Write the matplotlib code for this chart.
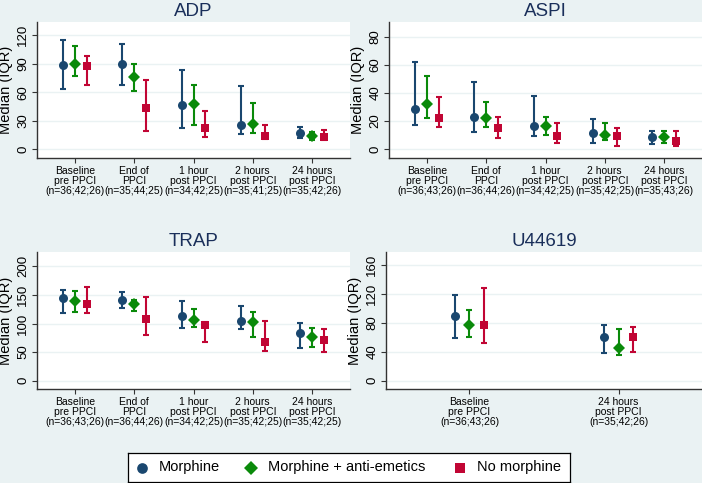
import numpy as np
import matplotlib
matplotlib.use("Agg")
import matplotlib.pyplot as plt

plt.rcParams["font.family"] = ["Liberation Sans", "DejaVu Sans"]

groups = ["Morphine", "Morphine + anti-emetics", "No morphine"]
colors = ["#1a476f", "#0a8a0a", "#c10534"]
markers = ["o", "D", "s"]

# ADP: median, lower, upper per group (rows = groups, cols = timepoints)
adp_labels = ["Baseline\npre PPCI\n(n=36;42;26)", "End of\nPPCI\n(n=35;44;25)",
              "1 hour\npost PPCI\n(n=34;42;25)", "2 hours\npost PPCI\n(n=35;41;25)",
              "24 hours\npost PPCI\n(n=35;42;26)"]
adp_med = [[89, 90, 46.4, 25.5, 16.7], [90, 76, 48, 26, 13.3], [88, 43.6, 22, 13.3, 12.6]]
adp_lo = [[63, 67, 22, 15.3, 11.5], [77.4, 61.4, 25, 16.7, 9.8], [67.3, 19.5, 12.6, 10.5, 9]]
adp_hi = [[114.8, 111, 83, 66.3, 23.4], [109, 90, 68, 48.8, 17.8], [97.7, 72.5, 40.5, 24.8, 20.2]]

aspi_labels = ["Baseline\npre PPCI\n(n=36;43;26)", "End of\nPPCI\n(n=36;44;26)",
               "1 hour\npost PPCI\n(n=34;42;25)", "2 hours\npost PPCI\n(n=35;42;25)",
               "24 hours\npost PPCI\n(n=35;43;26)"]
aspi_med = [[28.6, 23.2, 16.8, 11.6, 8.8], [32.2, 22.5, 16.1, 9.7, 8.3], [22.5, 14.9, 9, 9, 5.4]]
aspi_lo = [[17.3, 12.3, 9.5, 4.5, 3.8], [22.2, 15.6, 9.9, 6.2, 4], [15.4, 8, 4.3, 2.4, 1.9]]
aspi_hi = [[62.2, 47.6, 38.1, 21.5, 13], [52.3, 33.8, 23.2, 18.7, 13], [37.2, 23.2, 18.7, 14.9, 13]]

trap_labels = ["Baseline\npre PPCI\n(n=36;43;26)", "End of\nPPCI\n(n=36;44;26)",
               "1 hour\npost PPCI\n(n=34;42;25)", "2 hours\npost PPCI\n(n=35;42;25)",
               "24 hours\npost PPCI\n(n=35;42;25)"]
trap_med = [[144.6, 141, 113.7, 103.8, 83.4], [140, 134, 106, 103, 75.8], [134, 107, 97.4, 68.2, 71.7]]
trap_lo = [[118, 126.5, 91.5, 90.4, 57], [120, 122.4, 93.3, 75.8, 59.5], [118, 79.3, 67, 51.3, 50.7]]
trap_hi = [[159, 154.5, 140, 130, 101.5], [157.4, 141.7, 126, 119.5, 92], [163, 147, 102.6, 103.8, 91]]

u4_labels = ["Baseline\npre PPCI\n(n=36;43;26)", "24 hours\npost PPCI\n(n=35;42;26)"]
u4_med = [[89.7, 60.7], [76.8, 45.5], [76.8, 60.7]]
u4_lo = [[58.9, 37.7], [60.2, 35.9], [51.5, 39.5]]
u4_hi = [[117.7, 77.2], [97.5, 70.8], [127.4, 74]]

bg = "#eaf2f3"
msizes = [6.5, 6.0, 5.5]
W, H = 702, 483
fig = plt.figure(figsize=(W / 100, H / 100), dpi=100, facecolor=bg)


def panel(rect, title, labels, med, lo, hi, yticks, ylim, offset):
    l, t, r, b = rect
    ax = fig.add_axes([l / W, 1 - b / H, (r - l) / W, (b - t) / H])
    ax.set_facecolor("white")
    n = len(labels)
    x = np.arange(1, n + 1)
    for g in range(3):
        m = np.array(med[g])
        xs = x + (g - 1) * offset
        err = [m - np.array(lo[g]), np.array(hi[g]) - m]
        ax.errorbar(xs, m, yerr=err, fmt="none", ecolor=colors[g],
                    elinewidth=1.5, capsize=2.5, capthick=1.5)
        ax.plot(xs, m, ls="none", marker=markers[g], color=colors[g],
                ms=msizes[g], mew=0, zorder=3)
    ax.set_xticks(x)
    ax.set_xticklabels(labels, fontsize=7.5, linespacing=1.02)
    ax.set_xlim(0.36 if n == 5 else 0.44, n + (0.64 if n == 5 else 0.56))
    ax.set_yticks(yticks)
    ax.set_yticklabels([str(v) for v in yticks], rotation=90, va="center", fontsize=9.5)
    ax.set_ylim(*ylim)
    ax.yaxis.grid(True, color=bg, lw=1.0)
    ax.set_axisbelow(True)
    for s in ["top", "right"]:
        ax.spines[s].set_visible(False)
    for s in ["left", "bottom"]:
        ax.spines[s].set_color("#333333")
        ax.spines[s].set_linewidth(1.0)
    ax.tick_params(axis="both", length=3.5, width=0.8, color="#333333", pad=2)
    ax.set_ylabel("Median (IQR)", fontsize=10.5, labelpad=3)
    ax.set_title(title, fontsize=13.5, color="#1a2f5a", pad=4)
    return ax


panel((37, 22, 350, 158), "ADP", adp_labels, adp_med, adp_lo, adp_hi,
      [0, 30, 60, 90, 120], (-9.5, 134), 0.2)
panel((389, 22, 702, 158), "ASPI", aspi_labels, aspi_med, aspi_lo, aspi_hi,
      [0, 20, 40, 60, 80], (-6.4, 90.7), 0.2)
panel((37, 252, 350, 389), "TRAP", trap_labels, trap_med, trap_lo, trap_hi,
      [0, 50, 100, 150, 200], (-14.5, 225), 0.2)
panel((386, 252, 702, 389), "U44619", u4_labels, u4_med, u4_lo, u4_hi,
      [0, 40, 80, 120, 160], (-11.4, 177.5), 0.1)

# legend box, laid out in pixel units inside its own axes
lx0, ly0, lx1, ly1 = 128, 453, 570, 482
lax = fig.add_axes([lx0 / W, 1 - ly1 / H, (lx1 - lx0) / W, (ly1 - ly0) / H])
lax.set_xlim(0, lx1 - lx0)
lax.set_ylim(0, 1)
lax.set_xticks([])
lax.set_yticks([])
lax.set_facecolor("white")
for s in lax.spines.values():
    s.set_color("black")
    s.set_linewidth(0.9)
marker_x = [14, 123, 332]
for g in range(3):
    lax.plot(marker_x[g], 0.5, ls="none", marker=markers[g], color=colors[g],
             ms=msizes[g] + 1.2, mew=0)
    lax.text(marker_x[g] + 17, 0.5, groups[g], fontsize=10.5, va="center", ha="left")

fig.savefig("out.png", dpi=100, facecolor=bg)
